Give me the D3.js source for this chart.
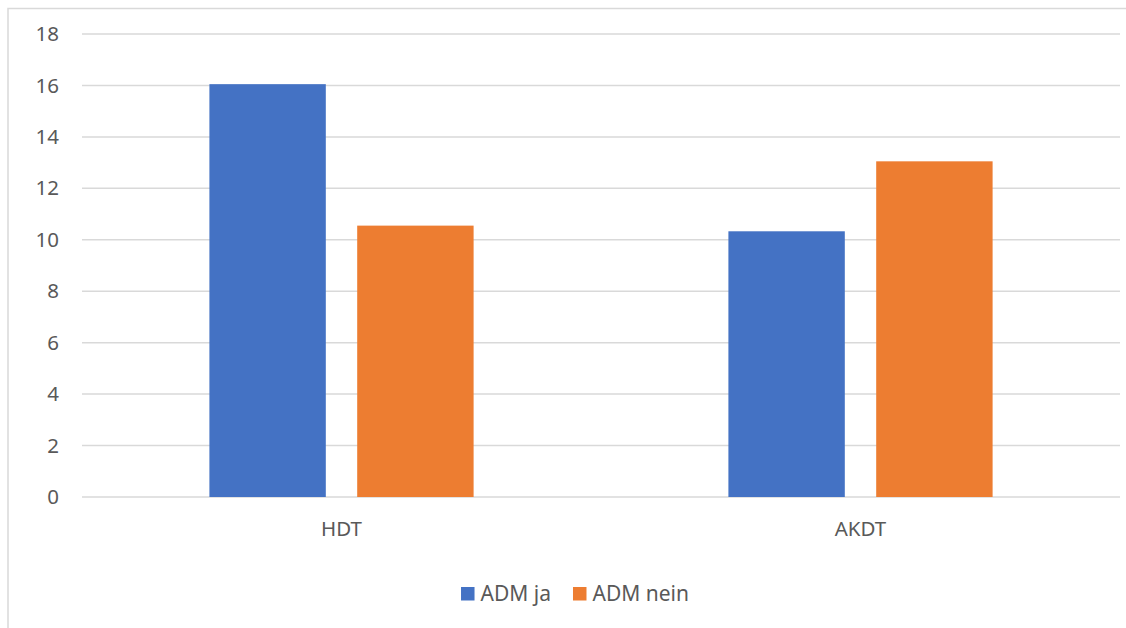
<!DOCTYPE html>
<html>
<head>
<meta charset="utf-8">
<script src="https://cdn.jsdelivr.net/npm/d3@7"></script>
<style>
  html, body { margin: 0; padding: 0; background: #fff; }
  svg { display: block; }
  text { font-family: "Segoe UI", "Noto Sans", "Open Sans", sans-serif; fill: #595959; }
</style>
</head>
<body>
<svg id="chart" width="1126" height="628"></svg>
<script>
// Categories, series and values
const categories = ["HDT", "AKDT"];
const seriesNames = ["ADM ja", "ADM nein"];
const admJa = [16.05, 10.33];
const admNein = [10.55, 13.05];
const yTicks = [0, 2, 4, 6, 8, 10, 12, 14, 16, 18];
const colors = ["#4472C4", "#ED7D31"];

const seriesValues = [admJa, admNein];
const rows = categories.map((c, i) => ({
  category: c,
  values: seriesNames.map((s, j) => ({ series: s, value: seriesValues[j][i] }))
}));

const W = 1126, H = 628;
const plot = { left: 82, right: 1120, top: 34, bottom: 497 };
const fontSize = 20.5;

const svg = d3.select("#chart");

// Chart area frame (top and left edges)
svg.append("path")
  .attr("d", `M8,${H} L8,8.5 L${W},8.5`)
  .attr("fill", "none")
  .attr("stroke", "#d9d9d9")
  .attr("stroke-width", 1.5);

const y = d3.scaleLinear().domain([0, 18]).range([plot.bottom, plot.top]);
const x0 = d3.scaleBand().domain(categories).range([plot.left, plot.right]).padding(0);
const x1 = d3.scaleBand().domain(seriesNames)
  .range([0, x0.bandwidth()])
  .paddingInner(0.2124)
  .paddingOuter(0.862);
const color = d3.scaleOrdinal().domain(seriesNames).range(colors);

// Horizontal gridlines
svg.append("g")
  .selectAll("line")
  .data(yTicks)
  .join("line")
  .attr("x1", plot.left)
  .attr("x2", plot.right)
  .attr("y1", d => y(d))
  .attr("y2", d => y(d))
  .attr("stroke", "#d9d9d9")
  .attr("stroke-width", 1.5);

// Y axis labels
const yAxis = d3.axisLeft(y).tickValues(yTicks).tickSize(0).tickPadding(23);
const yg = svg.append("g").attr("transform", `translate(${plot.left},0)`).call(yAxis);
yg.select(".domain").remove();
yg.selectAll("text")
  .attr("font-size", fontSize)
  .attr("font-family", null)
  .attr("fill", "#595959");

// Bars
svg.append("g")
  .selectAll("g")
  .data(rows)
  .join("g")
  .attr("transform", d => `translate(${x0(d.category)},0)`)
  .selectAll("rect")
  .data(d => d.values)
  .join("rect")
  .attr("x", d => x1(d.series))
  .attr("width", x1.bandwidth())
  .attr("y", d => y(d.value))
  .attr("height", d => y(0) - y(d.value))
  .attr("fill", d => color(d.series));

// Category labels
const xAxis = d3.axisBottom(x0).tickSize(0).tickPadding(0);
const xg = svg.append("g").attr("transform", `translate(0,${plot.bottom})`).call(xAxis);
xg.select(".domain").remove();
xg.selectAll("text")
  .attr("font-size", fontSize)
  .attr("font-family", null)
  .attr("fill", "#595959")
  .attr("dy", null)
  .attr("y", 39);

// Legend, centred below the plot
const legend = svg.append("g");
const items = legend.selectAll("g")
  .data(seriesNames)
  .join("g");
items.append("rect")
  .attr("width", 13.5)
  .attr("height", 13.5)
  .attr("y", -13.5)
  .attr("fill", d => color(d));
items.append("text")
  .attr("x", 19.5)
  .attr("y", 0)
  .attr("font-size", 21)
  .text(d => d);

let offset = 0;
items.each(function () {
  const g = d3.select(this);
  g.attr("transform", `translate(${offset},0)`);
  const tw = g.select("text").node().getComputedTextLength();
  offset += 19.5 + tw + 22;
});
const legendWidth = offset - 22;
legend.attr("transform", `translate(${575 - legendWidth / 2},600.5)`);
</script>
</body>
</html>
